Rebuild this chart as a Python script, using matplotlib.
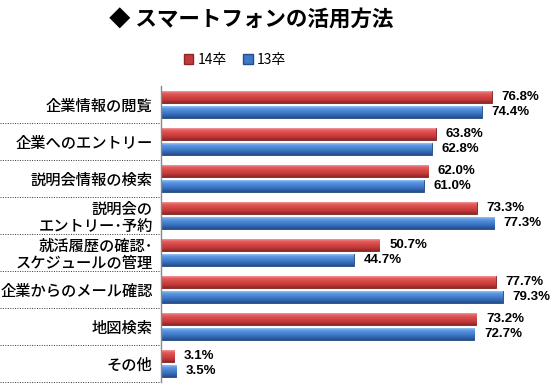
import numpy as np
import matplotlib
matplotlib.use("Agg")
import matplotlib.pyplot as plt
from matplotlib.colors import LinearSegmentedColormap
from matplotlib.patches import Patch

plt.rcParams['font.family'] = ['Noto Sans CJK JP', 'DejaVu Sans']

# ---------------- data ----------------
categories = ["企業情報の閲覧", "企業へのエントリー", "説明会情報の検索",
              "説明会の\nエントリー･予約", "就活履歴の確認･\nスケジュールの管理",
              "企業からのメール確認", "地図検索", "その他"]
vals_14 = [76.8, 63.8, 62.0, 73.3, 50.7, 77.7, 73.2, 3.1]
vals_13 = [74.4, 62.8, 61.0, 77.3, 44.7, 79.3, 72.7, 3.5]
series_names = ["14卒", "13卒"]

red_cmap = LinearSegmentedColormap.from_list(
    "r", ["#f9b0b0", "#e35b5b", "#d64646", "#c13838", "#8f2626"])
blue_cmap = LinearSegmentedColormap.from_list(
    "b", ["#b0d4fa", "#5d97e2", "#4682d1", "#3669b5", "#234e8c"])

fig = plt.figure(figsize=(5.5, 3.88), dpi=100)
ax = fig.add_axes([161/550, 1-382/388, 387/550, 296/388])

y = np.arange(len(categories))
h = 0.33
off = 0.2


def grad_bars(vals, ypos, cmap, edge):
    bars = ax.barh(ypos, vals, height=h, color=cmap(0.5), edgecolor=edge,
                   linewidth=0.6, zorder=2)
    grad = np.linspace(0, 1, 64).reshape(-1, 1)
    for b in bars:
        x0, y0 = b.get_x(), b.get_y()
        w, hh = b.get_width(), b.get_height()
        im = ax.imshow(grad, cmap=cmap, aspect='auto', origin='upper',
                       extent=[x0, x0 + w, y0 + hh, y0], zorder=2.5,
                       interpolation='bilinear')
        im.set_clip_path(b)
    return bars


b14 = grad_bars(vals_14, y - off, red_cmap, "#7a1e1e")
b13 = grad_bars(vals_13, y + off, blue_cmap, "#1f4578")

for v, yy in zip(vals_14, y - off):
    ax.annotate(f"{v:.1f}%", (v, yy), xytext=(7, 0), textcoords='offset points',
                va='center', ha='left', fontsize=9.5, fontweight='bold',
                family=['Liberation Sans', 'DejaVu Sans'])
for v, yy in zip(vals_13, y + off):
    ax.annotate(f"{v:.1f}%", (v, yy), xytext=(7, 0), textcoords='offset points',
                va='center', ha='left', fontsize=9.5, fontweight='bold',
                family=['Liberation Sans', 'DejaVu Sans'])

ax.set_xlim(0, 89.8)
ax.set_ylim(len(categories) - 0.5, -0.5)
ax.set_yticks(y)
ax.set_yticklabels(categories, fontsize=11, linespacing=1.05, fontweight='medium')
ax.tick_params(axis='y', length=0, pad=6)
ax.set_xticks([])
for s in ["top", "right", "bottom"]:
    ax.spines[s].set_visible(False)
ax.spines["left"].set_color("#888888")
ax.spines["left"].set_linewidth(1)

# dotted separators in the label area
tr = ax.get_yaxis_transform()
for i in range(len(categories)):
    ax.plot([-161/387, 0], [i + 0.5, i + 0.5], transform=tr, clip_on=False,
            color="#333333", linestyle=(0, (1, 1.5)), linewidth=0.7)

fig.text(251/550, 1-20/388, "◆ スマートフォンの活用方法", ha='center', va='center',
         fontsize=15.5, fontweight='bold')

handles = [Patch(facecolor="#c0393b", edgecolor="#8f2626"),
           Patch(facecolor="#3f78c6", edgecolor="#234e8c")]
fig.legend(handles, series_names, loc='center', bbox_to_anchor=(235/550, 1-60/388),
           ncol=2, frameon=False, fontsize=10, handlelength=0.7, handleheight=0.7,
           handletextpad=0.3, columnspacing=1.2)

fig.savefig("out.png", dpi=100)
